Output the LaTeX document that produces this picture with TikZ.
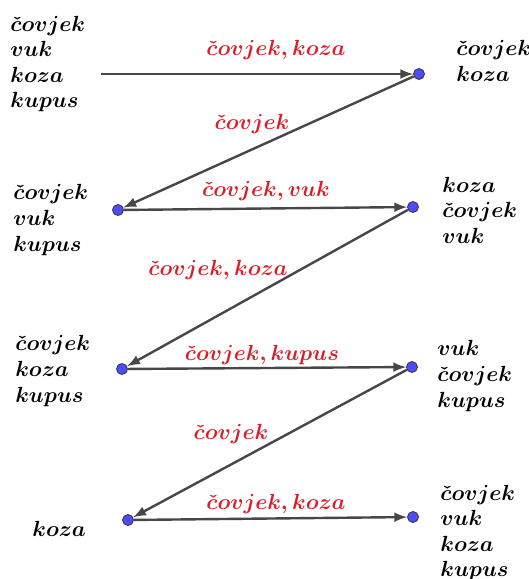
\documentclass[tikz,border=0pt]{standalone}
\usepackage{amsmath,amssymb}
\usepackage{xcolor}
\usetikzlibrary{arrows}
\definecolor{movered}{RGB}{220,30,40}
\definecolor{dotblue}{RGB}{77,77,255}
\newcommand{\bw}[1]{$\boldsymbol{#1}$}

\begin{document}
\begin{tikzpicture}[
    x=0.5pt, y=-0.5pt,
    bank/.style={inner sep=0, align=left, font=\fontsize{11}{12.8}\selectfont},
    move/.style={inner sep=0, text=movered, font=\fontsize{11}{12.8}\selectfont},
    dot/.style={circle, draw=black!80, fill=dotblue, inner sep=0, minimum size=5.5pt},
    arrow/.style={line width=1.2pt, draw=black!72, ->, >=latex}
]
\useasboundingbox (0,0) rectangle (529,579);

% points
\coordinate (start) at (101,74);
\node[dot] (p1) at (419,74) {};
\node[dot] (p2) at (118,210) {};
\node[dot] (p3) at (413,207) {};
\node[dot] (p4) at (122,369) {};
\node[dot] (p5) at (412,367) {};
\node[dot] (p6) at (128,520) {};
\node[dot] (p7) at (413,517) {};

% banks
\node[bank, anchor=west] (left0) at (10,64) {\bw{\check{c}ovjek}\\ \bw{vuk}\\ \bw{koza}\\ \bw{kupus}};
\node[bank, anchor=west] (right1) at (456,61) {\bw{\check{c}ovjek}\\ \bw{koza}};
\node[bank, anchor=west] (left2) at (13,220) {\bw{\check{c}ovjek}\\ \bw{vuk}\\ \bw{kupus}};
\node[bank, anchor=west] (right3) at (442,210) {\bw{koza}\\ \bw{\check{c}ovjek}\\ \bw{vuk}};
\node[bank, anchor=west] (left4) at (15,371) {\bw{\check{c}ovjek}\\ \bw{koza}\\ \bw{kupus}};
\node[bank, anchor=west] (right5) at (437,376) {\bw{vuk}\\ \bw{\check{c}ovjek}\\ \bw{kupus}};
\node[bank, anchor=west] (left6) at (32,529) {\bw{koza}};
\node[bank, anchor=west] (right7) at (440,533) {\bw{\check{c}ovjek}\\ \bw{vuk}\\ \bw{koza}\\ \bw{kupus}};

% crossings
\node[move] (m1) at (276,50) {\bw{\check{c}ovjek, koza}};
\node[move] (m2) at (252,124) {\bw{\check{c}ovjek}};
\node[move] (m3) at (266,191) {\bw{\check{c}ovjek, vuk}};
\node[move] (m4) at (218,270) {\bw{\check{c}ovjek, koza}};
\node[move] (m5) at (262,355) {\bw{\check{c}ovjek, kupus}};
\node[move] (m6) at (231,434) {\bw{\check{c}ovjek}};
\node[move] (m7) at (276,504) {\bw{\check{c}ovjek, koza}};

\draw[arrow] (start) -- (p1);
\draw[arrow] (p1) -- (p2);
\draw[arrow] (p2) -- (p3);
\draw[arrow] (p3) -- (p4);
\draw[arrow] (p4) -- (p5);
\draw[arrow] (p5) -- (p6);
\draw[arrow] (p6) -- (p7);
\end{tikzpicture}
\end{document}
